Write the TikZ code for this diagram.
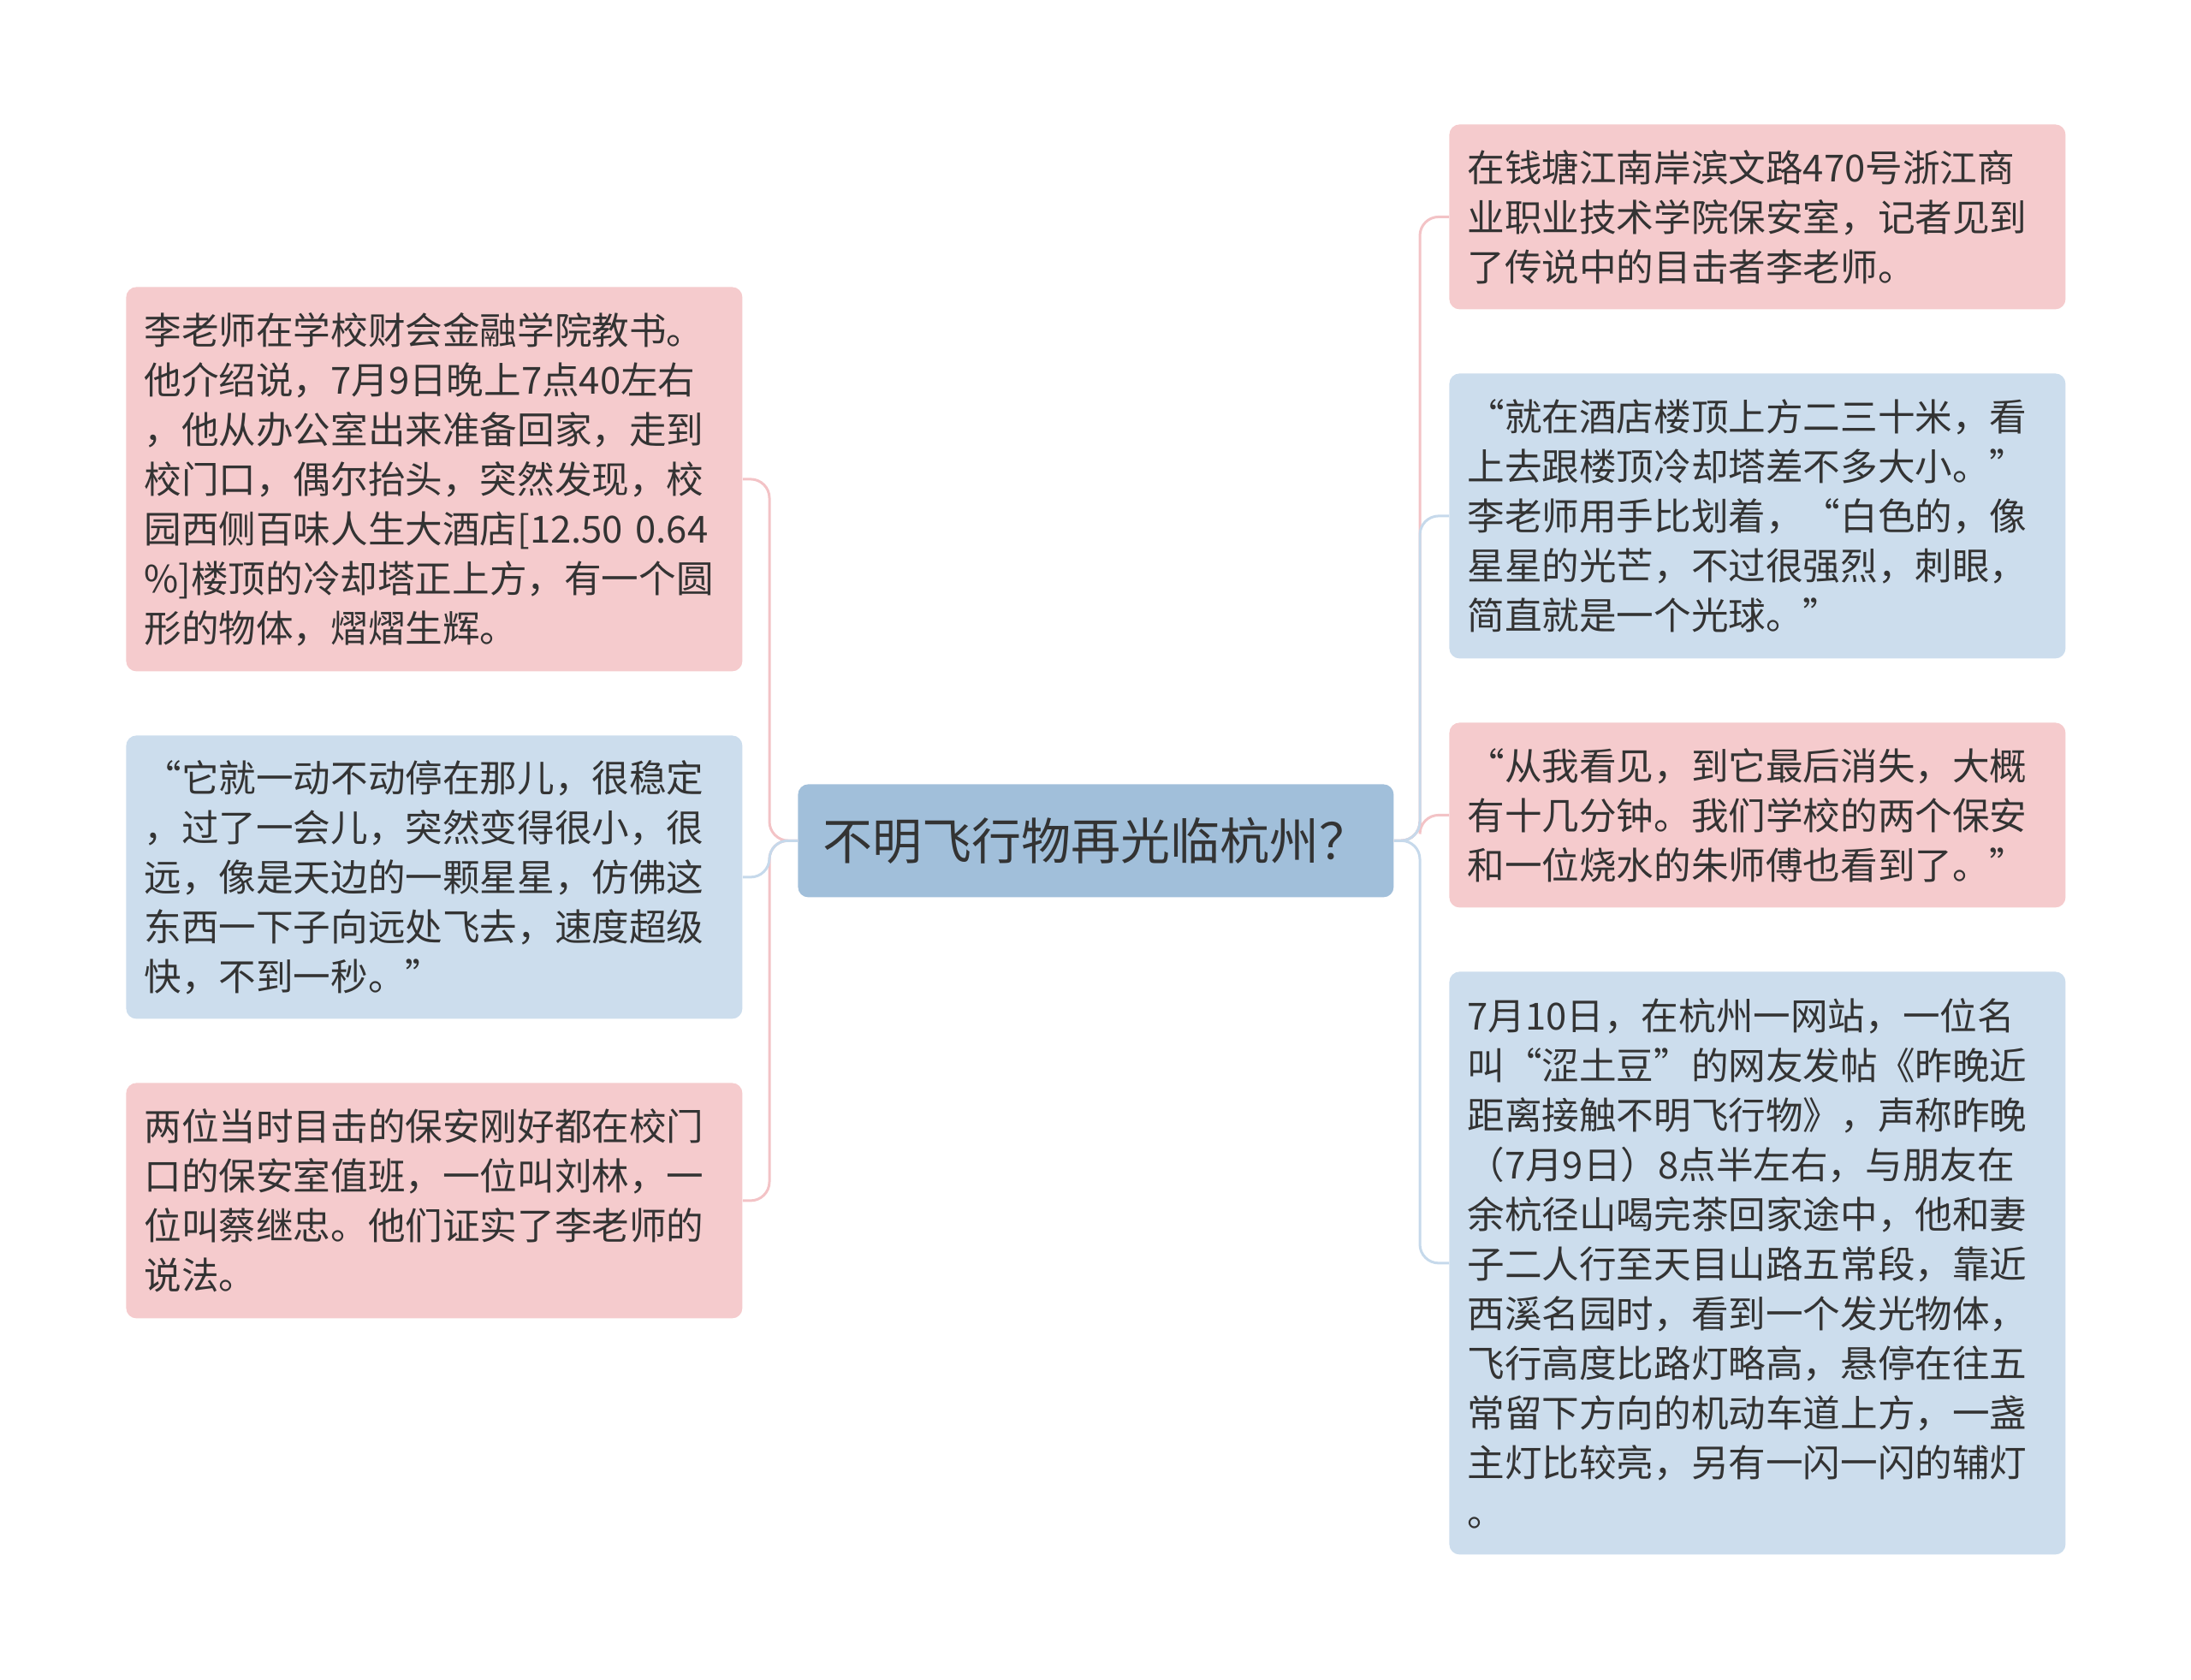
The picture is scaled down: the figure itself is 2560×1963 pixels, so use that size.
\documentclass[tikz,border=0pt]{standalone}
\usepackage{fontspec}
\setmainfont{Noto Sans CJK SC}
\definecolor{pinkfill}{HTML}{F5CBCD}
\definecolor{bluefill}{HTML}{CCDDED}
\definecolor{rootfill}{HTML}{A1BFDA}
\definecolor{pinkline}{HTML}{F3C3C6}
\definecolor{blueline}{HTML}{C6D9EB}
\definecolor{inktext}{HTML}{333333}
\begin{document}
\begin{tikzpicture}[x=0.5pt, y=-0.5pt]
    \tikzstyle{leaf} = [anchor=north west, rounded corners=6pt, text=inktext, align=left,
        inner xsep=10.5pt, text width=339pt, minimum width=360pt,
        font=\fontsize{21.8pt}{29pt}\selectfont]
    \tikzstyle{pinkleaf} = [leaf, fill=pinkfill]
    \tikzstyle{blueleaf} = [leaf, fill=bluefill]
    \tikzstyle{topic} = [anchor=north west, rounded corners=6pt, fill=rootfill, text=inktext,
        minimum width=348pt, minimum height=66pt, font=\fontsize{29pt}{34pt}\selectfont]
    \tikzstyle{pinkwire} = [pinkline, line width=1.5pt, rounded corners=11pt]
    \tikzstyle{bluewire} = [blueline, line width=1.5pt, rounded corners=11pt]

    \useasboundingbox (0,0) rectangle (2560,1963);

    % Central topic
    \node [topic] (root) at (932,916) {不明飞行物再光临杭州？};

    % Left branch
    \node [pinkleaf, minimum height=224.5pt] (l1) at (147,335) {李老师在学校财会金融学院教书。\\他介绍说，7月9日晚上7点40左右\\，他从办公室出来准备回家，走到\\校门口，偶尔抬头，突然发现，校\\园西侧百味人生大酒店[12.50~0.64\\\%]楼顶的冷却塔正上方，有一个圆\\形的物体，熠熠生辉。};
    \node [blueleaf, minimum height=165.5pt] (l2) at (147,859) {“它就一动不动停在那儿，很稳定\\，过了一会儿，突然变得很小，很\\远，像是天边的一颗星星，仿佛这\\东西一下子向远处飞去，速度超级\\快，不到一秒。”};
    \node [pinkleaf, minimum height=137.5pt] (l3) at (147,1265) {两位当时目击的保安刚好都在校门\\口的保安室值班，一位叫刘林，一\\位叫蔡继忠。他们证实了李老师的\\说法。};

    % Right branch
    \node [pinkleaf, minimum height=108pt] (r1) at (1693,145) {在钱塘江南岸滨文路470号浙江商\\业职业技术学院保安室，记者见到\\了传说中的目击者李老师。};
    \node [blueleaf, minimum height=166.5pt] (r2) at (1693,436) {“就在酒店楼顶上方二三十米，看\\上去跟楼顶冷却塔差不多大小。”\\李老师用手比划着，“白色的，像\\星星的光芒，不过很强烈，刺眼，\\简直就是一个光球。”};
    \node [pinkleaf, minimum height=108pt] (r3) at (1693,844) {“从我看见，到它最后消失，大概\\有十几分钟。我们学校的两个保安\\和一位烧水的朱师傅也看到了。”};
    \node [blueleaf, minimum height=340.5pt] (r4) at (1693,1135) {7月10日，在杭州一网站，一位名\\叫“涩土豆”的网友发帖《昨晚近\\距离接触不明飞行物》，声称昨晚\\（7月9日）8点半左右，与朋友在\\余杭径山喝完茶回家途中，他和妻\\子二人行至天目山路五常段，靠近\\西溪名园时，看到一个发光物体，\\飞行高度比路灯略高，悬停在往五\\常留下方向的机动车道上方，一盏\\主灯比较亮，另有一闪一闪的辅灯\\。};

    % Trunk points
    \coordinate (lt) at (899,982);
    \coordinate (rt) at (1659,982);

    % Connectors
    \draw [pinkwire] (root.west) -- (lt) |- (l1.east);
    \draw [pinkwire] (root.west) -- (lt) |- (l3.east);
    \draw [bluewire] (root.west) -- (lt) |- (l2.east);
    \draw [pinkwire] (root.east) -- (rt) |- (r1.west);
    \draw [pinkwire] (root.east) -- (rt) |- (r3.west);
    \draw [bluewire] (root.east) -- (rt) |- (r2.west);
    \draw [bluewire] (root.east) -- (rt) |- (r4.west);
\end{tikzpicture}
\end{document}
